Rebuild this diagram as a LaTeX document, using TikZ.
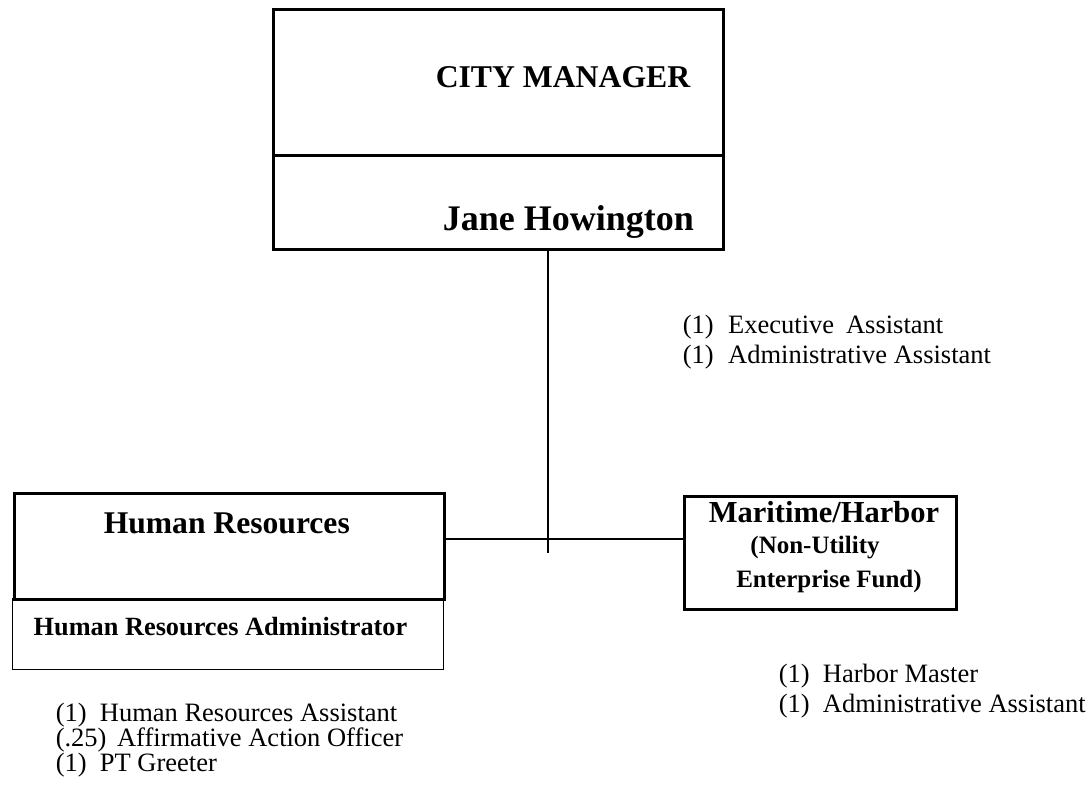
\documentclass[tikz,border=0pt]{standalone}
\usepackage{fontspec}
\setmainfont{Liberation Serif}

\tikzset{
  boldbox/.style={draw, line width=3pt, inner sep=0pt, anchor=north west},
  plainbox/.style={draw, line width=1pt, inner sep=0pt, anchor=north west},
  label/.style={inner sep=0pt, anchor=base west},
  staff/.style={inner sep=0pt, anchor=base west, font=\fontsize{26.5}{26.5}\selectfont},
}

\begin{document}
\begin{tikzpicture}[x=1pt, y=-1pt, line width=1.5pt]
  \useasboundingbox[fill=white] (0,0) rectangle (1088,798);

  % city manager
  \node[boldbox, minimum width=450pt, minimum height=146pt] (cmtop) at (272,8) {};
  \node[boldbox, minimum width=450pt, minimum height=94pt] (cmname) at (272,154) {};
  \node[label, font=\bfseries\fontsize{31.7}{31.7}\selectfont] (cmtitle) at (435,87) {CITY MANAGER};
  \node[label, font=\bfseries\fontsize{36}{36}\selectfont] (jane) at (442,230) {Jane Howington};

  \node[staff] (exec1) at (682,333) {(1)\hspace{0.55em}Executive\hspace{0.45em}Assistant};
  \node[staff] (exec2) at (682,363) {(1)\hspace{0.55em}Administrative Assistant};

  % human resources
  \node[boldbox, minimum width=430pt, minimum height=106pt] (hrtop) at (13,492) {};
  \node[plainbox, minimum width=431pt, minimum height=71pt] (hrlow) at (12,598) {};
  \node[label, font=\bfseries\fontsize{31.6}{31.6}\selectfont] (hrtitle) at (103,533) {Human Resources};
  \node[label, font=\bfseries\fontsize{26.3}{26.3}\selectfont] (hradmin) at (33,635) {Human Resources Administrator};

  \node[staff] (hr1) at (55,721) {(1)\hspace{0.5em}Human Resources Assistant};
  \node[staff] (hr2) at (55,746) {(.25)\hspace{0.4em}Affirmative Action Officer};
  \node[staff] (hr3) at (55,771) {(1)\hspace{0.5em}PT Greeter};

  % maritime / harbor
  \node[boldbox, minimum width=272pt, minimum height=113pt] (harbor) at (683,495) {};
  \node[inner sep=0pt, anchor=base, font=\bfseries\fontsize{30.5}{30.5}\selectfont] (hbtitle) at (824,522) {Maritime/Harbor};
  \node[inner sep=0pt, anchor=base, font=\bfseries\fontsize{25}{25}\selectfont] (hbfund1) at (815,553) {(Non-Utility};
  \node[inner sep=0pt, anchor=base, font=\bfseries\fontsize{25}{25}\selectfont] (hbfund2) at (829,587) {Enterprise Fund)};

  \node[staff] (hb1) at (778,682) {(1)\hspace{0.5em}Harbor Master};
  \node[staff] (hb2) at (778,712) {(1)\hspace{0.5em}Administrative Assistant};

  % lines
  \coordinate (drop) at (548,553);
  \coordinate (bar) at (548,539);
  \draw (cmname.south -| drop) -- (drop);
  \draw (bar -| hrtop.east) -- (bar -| harbor.west);
\end{tikzpicture}
\end{document}
